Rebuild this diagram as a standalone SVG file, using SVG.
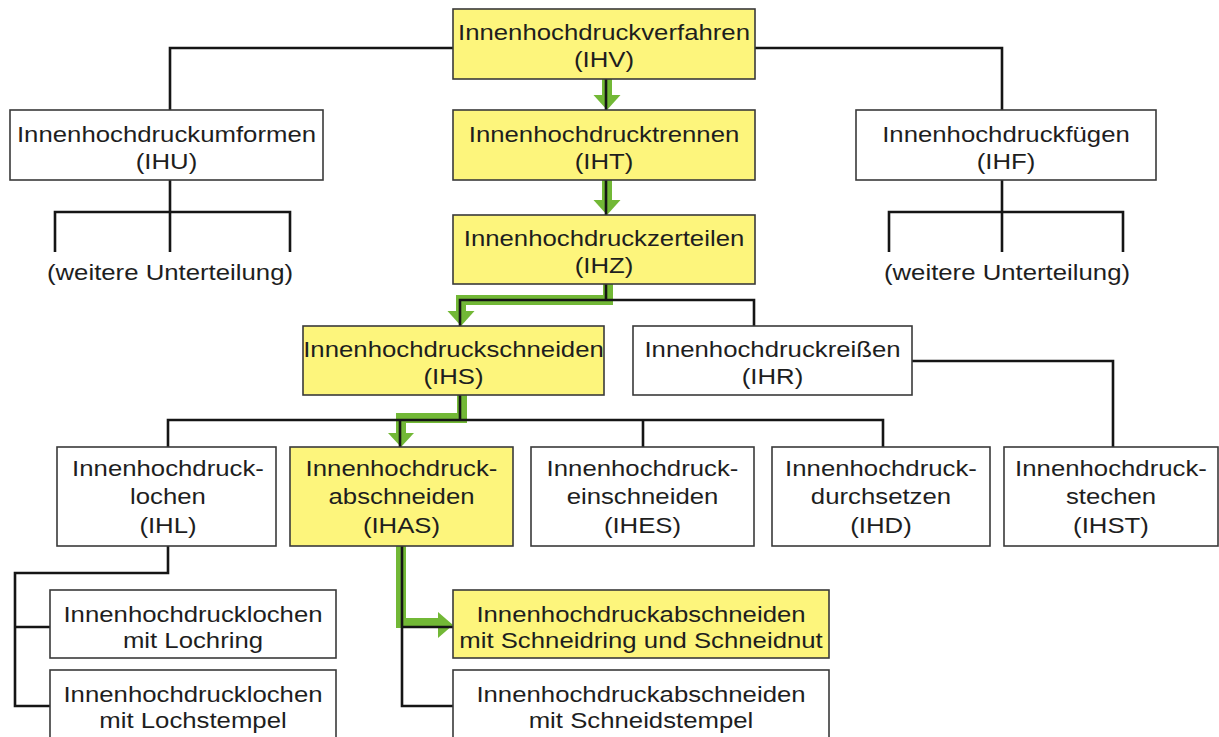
<svg xmlns="http://www.w3.org/2000/svg" width="1219" height="737" viewBox="0 0 1219 737">
<style>
.box{stroke:#3a3a3a;stroke-width:1.6}
.y{fill:#fdf57c}
.w{fill:#ffffff}
text{font-family:"Liberation Sans",Arial,sans-serif;font-size:23px;fill:#1e1e1e;text-anchor:middle}
.ln{fill:none;stroke:#151515;stroke-width:2.6;stroke-linejoin:miter}
.gr{fill:none;stroke:#72b836;stroke-width:10;stroke-linejoin:miter}
.gh{fill:#72b836}
</style>
<rect width="1219" height="737" fill="#ffffff"/>
<g id="connectors">
  <path class="gr" d="M607,79 V96"/>
  <polygon class="gh" points="593.5,95 620.5,95 607,110"/>
  <path class="gr" d="M607,180 V201"/>
  <polygon class="gh" points="593.5,200 620.5,200 607,215"/>
  <path class="gr" d="M608,284 V300 H461 V312"/>
  <polygon class="gh" points="447.5,311 474.5,311 461,326"/>
  <path class="gr" d="M462,395 V418 H401 V434"/>
  <polygon class="gh" points="388,433 414,433 401,447"/>
  <path class="gr" d="M401,546 V623 H439"/>
  <polygon class="gh" points="438,612 438,638 453,625"/>
  <path class="ln" d="M453,48 H170 V110"/>
  <path class="ln" d="M755,48 H1002 V110"/>
  <path class="ln" d="M606,79 V110"/>
  <path class="ln" d="M606,180 V215"/>
  <path class="ln" d="M170,180 V252 M55,252 V212 H290 V252"/>
  <path class="ln" d="M1002,180 V252 M889,252 V212 H1123 V252"/>
  <path class="ln" d="M606,284 V300 M460,326 V300 H754 V326"/>
  <path class="ln" d="M460,395 V420 M168,447 V420 H883 V447 M400,420 V447 M643,420 V447"/>
  <path class="ln" d="M912,361 H1113 V447"/>
  <path class="ln" d="M168,546 V573 H15 V706 H50 M15,627 H50"/>
  <path class="ln" d="M402,546 V706 H453 M402,627 H453"/>
</g>
<g id="n-ihv"><rect class="box y" x="453" y="9" width="302" height="70"/><g transform="translate(604 0) scale(1.12 1)"><text x="0" y="40.5">Innenhochdruckverfahren</text><text x="0" y="67.5">(IHV)</text></g></g>
<g id="n-iht"><rect class="box y" x="453" y="110" width="302" height="70"/><g transform="translate(604 0) scale(1.12 1)"><text x="0" y="142">Innenhochdrucktrennen</text><text x="0" y="169">(IHT)</text></g></g>
<g id="n-ihz"><rect class="box y" x="453" y="215" width="302" height="69"/><g transform="translate(604 0) scale(1.12 1)"><text x="0" y="246.5">Innenhochdruckzerteilen</text><text x="0" y="273.5">(IHZ)</text></g></g>
<g id="n-ihu"><rect class="box w" x="10" y="110" width="313" height="70"/><g transform="translate(166.5 0) scale(1.12 1)"><text x="0" y="142.5">Innenhochdruckumformen</text><text x="0" y="169.5">(IHU)</text></g></g>
<g id="n-ihf"><rect class="box w" x="856" y="110" width="300" height="70"/><g transform="translate(1006 0) scale(1.12 1)"><text x="0" y="142.5">Innenhochdruckfügen</text><text x="0" y="169.5">(IHF)</text></g></g>
<g id="t-ihu-sub"><g transform="translate(170 0) scale(1.12 1)"><text x="0" y="280">(weitere Unterteilung)</text></g></g>
<g id="t-ihf-sub"><g transform="translate(1007 0) scale(1.12 1)"><text x="0" y="280">(weitere Unterteilung)</text></g></g>
<g id="n-ihs"><rect class="box y" x="303" y="326" width="301" height="69"/><g transform="translate(453.5 0) scale(1.12 1)"><text x="0" y="357.5">Innenhochdruckschneiden</text><text x="0" y="384.5">(IHS)</text></g></g>
<g id="n-ihr"><rect class="box w" x="633" y="326" width="279" height="69"/><g transform="translate(772.5 0) scale(1.12 1)"><text x="0" y="357.5">Innenhochdruckreißen</text><text x="0" y="384.5">(IHR)</text></g></g>
<g id="n-ihl"><rect class="box w" x="57" y="447" width="219" height="99"/><g transform="translate(168 0) scale(1.12 1)"><text x="0" y="476">Innenhochdruck-</text><text x="0" y="504.5">lochen</text><text x="0" y="533">(IHL)</text></g></g>
<g id="n-ihas"><rect class="box y" x="290" y="447" width="223" height="99"/><g transform="translate(401.5 0) scale(1.12 1)"><text x="0" y="476">Innenhochdruck-</text><text x="0" y="504.5">abschneiden</text><text x="0" y="533">(IHAS)</text></g></g>
<g id="n-ihes"><rect class="box w" x="531" y="447" width="223" height="99"/><g transform="translate(642.5 0) scale(1.12 1)"><text x="0" y="476">Innenhochdruck-</text><text x="0" y="504.5">einschneiden</text><text x="0" y="533">(IHES)</text></g></g>
<g id="n-ihd"><rect class="box w" x="772" y="447" width="218" height="99"/><g transform="translate(881 0) scale(1.12 1)"><text x="0" y="476">Innenhochdruck-</text><text x="0" y="504.5">durchsetzen</text><text x="0" y="533">(IHD)</text></g></g>
<g id="n-ihst"><rect class="box w" x="1004" y="447" width="214" height="99"/><g transform="translate(1111 0) scale(1.12 1)"><text x="0" y="476">Innenhochdruck-</text><text x="0" y="504.5">stechen</text><text x="0" y="533">(IHST)</text></g></g>
<g id="n-lochring"><rect class="box w" x="50" y="590" width="286" height="68"/><g transform="translate(193 0) scale(1.12 1)"><text x="0" y="622">Innenhochdrucklochen</text><text x="0" y="648">mit Lochring</text></g></g>
<g id="n-lochstempel"><rect class="box w" x="50" y="670" width="286" height="80"/><g transform="translate(193 0) scale(1.12 1)"><text x="0" y="702">Innenhochdrucklochen</text><text x="0" y="728">mit Lochstempel</text></g></g>
<g id="n-schneidring"><rect class="box y" x="453" y="590" width="376" height="68"/><g transform="translate(641 0) scale(1.12 1)"><text x="0" y="622">Innenhochdruckabschneiden</text><text x="0" y="648">mit Schneidring und Schneidnut</text></g></g>
<g id="n-schneidstempel"><rect class="box w" x="453" y="670" width="376" height="80"/><g transform="translate(641 0) scale(1.12 1)"><text x="0" y="702">Innenhochdruckabschneiden</text><text x="0" y="728">mit Schneidstempel</text></g></g>
</svg>
